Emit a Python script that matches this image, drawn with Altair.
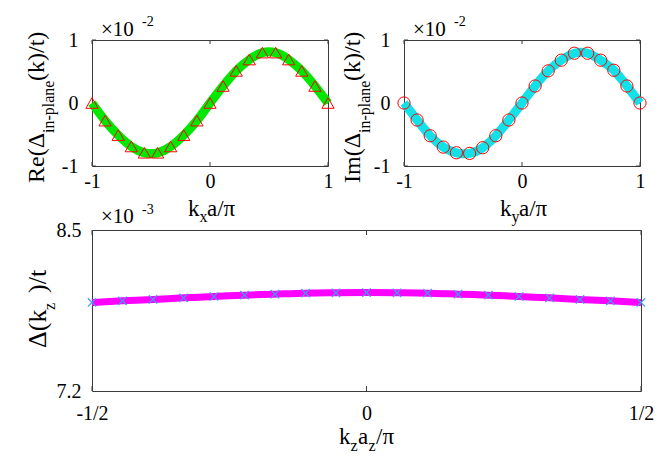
import altair as alt
import pandas as pd

FONT = "Liberation Serif"
BOX = "#3a3a3a"

# in-plane momentum grid (units of pi/a) and gap components (units of 1e-2 t)
k_inplane = [-1.0, -0.889, -0.778, -0.667, -0.556, -0.444, -0.333, -0.222, -0.111, 0.0,
             0.111, 0.222, 0.333, 0.444, 0.556, 0.667, 0.778, 0.889, 1.0]
re_delta = [0.0, -0.28, -0.51, -0.69, -0.79, -0.79, -0.69, -0.51, -0.28, 0.0,
            0.27, 0.51, 0.69, 0.80, 0.80, 0.69, 0.51, 0.27, 0.0]
im_delta = [0.0, -0.27, -0.52, -0.70, -0.79, -0.80, -0.71, -0.52, -0.27, 0.0,
            0.27, 0.51, 0.68, 0.79, 0.79, 0.68, 0.52, 0.27, 0.0]

# out-of-plane momentum grid (units of pi/a_z) and gap (units of 1e-3 t)
k_z = [-0.5, -0.4444, -0.3889, -0.3333, -0.2778, -0.2222, -0.1667, -0.1111, -0.0556, 0.0,
       0.0556, 0.1111, 0.1667, 0.2222, 0.2778, 0.3333, 0.3889, 0.4444, 0.5]
delta_kz = [7.915, 7.928, 7.939, 7.952, 7.963, 7.974, 7.982, 7.990, 7.993, 7.995,
            7.993, 7.990, 7.982, 7.974, 7.963, 7.952, 7.939, 7.928, 7.915]

inplane_ticks = [-1, 0, 1]
kz_ticks = [-0.5, 0, 0.5]
kz_tick_labels = ["-1/2", "0", "1/2"]
kz_range = [7.2, 8.5]

TOP_W, TOP_H = 236, 126
BOT_W, BOT_H = 549, 161
BOT_OFFSET = 190  # vertical distance from the top row's plot origin to the lower plot


def piece(s, x, y, size, angle=0):
    return alt.Chart(pd.DataFrame({"s": [s]})).mark_text(
        font=FONT, fontSize=size, angle=angle, align="left",
        baseline="alphabetic", color="black"
    ).encode(x=alt.value(x), y=alt.value(y), text="s:N")


def spacer(x, y):
    # invisible one-pixel text that pins the layout bounds
    return alt.Chart(pd.DataFrame({"s": ["."]})).mark_text(
        fontSize=1, opacity=0, align="left", baseline="top"
    ).encode(x=alt.value(x), y=alt.value(y), text="s:N")


def axis(values, pad, expr="toString(datum.value)"):
    return alt.Axis(values=values, title=None, labelFont=FONT, labelFontSize=20,
                    labelColor="black", labelPadding=pad, labelExpr=expr,
                    domain=False, ticks=False, tickSize=0, grid=False,
                    labelFlush=False, labelOverlap=False, labelBound=False)


def inplane_panel(ycol, values, line_color, shape, size, xsub, yname, yx, extra=()):
    df = pd.DataFrame({"k": k_inplane, ycol: values})
    X = alt.X("k:Q", scale=alt.Scale(domain=[-1, 1], nice=False, zero=False),
              axis=axis(inplane_ticks, 5))
    Y = alt.Y(f"{ycol}:Q", scale=alt.Scale(domain=[-1, 1], nice=False, zero=False),
              axis=axis(inplane_ticks, 14))

    xt = pd.DataFrame({"k": inplane_ticks})
    yt = pd.DataFrame({ycol: inplane_ticks})
    tick = dict(color=BOX, strokeWidth=1)
    ticks = [
        alt.Chart(xt).mark_rule(**tick).encode(x=X, y=alt.value(0), y2=alt.value(4)),
        alt.Chart(xt).mark_rule(**tick).encode(x=X, y=alt.value(TOP_H), y2=alt.value(TOP_H - 4)),
        alt.Chart(yt).mark_rule(**tick).encode(y=Y, x=alt.value(0), x2=alt.value(4)),
        alt.Chart(yt).mark_rule(**tick).encode(y=Y, x=alt.value(TOP_W), x2=alt.value(TOP_W - 4)),
    ]
    line = alt.Chart(df).mark_line(color=line_color, strokeWidth=9,
                                   interpolate="natural").encode(x=X, y=Y)
    pts = alt.Chart(df).mark_point(shape=shape, filled=False, color="red",
                                   strokeWidth=1, size=size, opacity=1).encode(x=X, y=Y)
    texts = [
        piece("\u00d710", 9, -4, 21),
        piece("-2", 50, -14, 14),
        piece(yname, yx, 143, 24, 270),
        piece("in-plane", yx + 10, 93, 16, 270),
        piece("(k)/t)", yx, 41, 24, 270),
        piece("k", 96, 176, 23),
        piece(xsub, 107.5, 182, 16),
        piece("a/\u03c0", 115, 176, 23),
    ]
    return alt.layer(*ticks, line, pts, *texts, *extra).properties(width=TOP_W, height=TOP_H)


left = inplane_panel(
    "re", re_delta, "#00e800", "triangle-up", 150, "x", "Re(\u0394", -48,
    extra=(spacer(-91, -39),),
)
right = inplane_panel("im", im_delta, "#12e2e8", "circle", 150, "y", "Im(\u0394", -44)

# out-of-plane panel
dfz = pd.DataFrame({"kz": k_z, "d": delta_kz})
label_expr = ("datum.value < 0 ? '%s' : (datum.value > 0 ? '%s' : '%s')"
              % (kz_tick_labels[0], kz_tick_labels[2], kz_tick_labels[1]))
XZ = alt.X("kz:Q", scale=alt.Scale(domain=[-0.5, 0.5], nice=False, zero=False),
           axis=axis(kz_ticks, 12, label_expr))
YZ = alt.Y("d:Q", scale=alt.Scale(domain=kz_range, nice=False, zero=False),
           axis=axis(kz_range, 11))
zt = pd.DataFrame({"kz": kz_ticks})
ztick = dict(color=BOX, strokeWidth=1)
bottom = alt.layer(
    alt.Chart(zt).mark_rule(**ztick).encode(x=XZ, y=alt.value(0), y2=alt.value(5)),
    alt.Chart(zt).mark_rule(**ztick).encode(x=XZ, y=alt.value(BOT_H), y2=alt.value(BOT_H - 5)),
    alt.Chart(dfz).mark_line(color="#ff00ff", strokeWidth=7, interpolate="natural").encode(x=XZ, y=YZ),
    alt.Chart(dfz).mark_point(shape="M-1,-1L1,1M-1,1L1,-1", filled=False, color="#3a9ff0",
                              strokeWidth=1.2, size=70, opacity=1).encode(x=XZ, y=YZ),
    piece("\u00d710", 9, -7, 21),
    piece("-3", 50, -16, 14),
    piece("\u0394(k", -46, 118, 26, 270),
    piece("z", -37, 80, 16, 270),
    piece(")/t", -46, 63, 26, 270),
    piece("k", 247, 214, 23),
    piece("z", 258.5, 221, 16),
    piece("a", 266, 214, 23),
    piece("z", 276.5, 221, 16),
    piece("/\u03c0", 284, 214, 23),
).properties(width=BOT_W, height=BOT_H)

# flush bounds: panels are placed by their plot areas only
chart = alt.vconcat(
    alt.hconcat(left, right, spacing=76, bounds="flush"),
    bottom,
    spacing=BOT_OFFSET,
    bounds="flush",
).properties(
    padding=0, background="white"
).configure_view(
    stroke=BOX, strokeWidth=1
)

chart.save("out.html", embed_options={"renderer": "svg", "actions": False})
